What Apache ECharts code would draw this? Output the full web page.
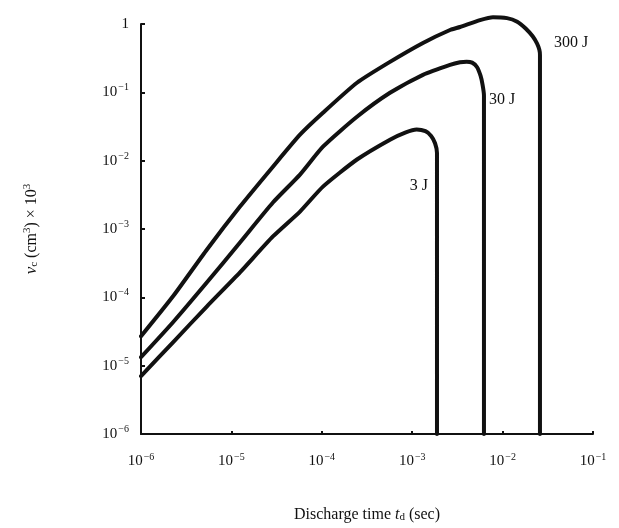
<!DOCTYPE html>
<html>
<head>
<meta charset="utf-8">
<title>Discharge time vs volume</title>
<script src="https://cdn.jsdelivr.net/npm/echarts@6/dist/echarts.min.js"></script>
<style>
  html, body { margin: 0; padding: 0; background: #fff; }
  #chart { width: 619px; height: 528px; }
</style>
</head>
<body>
<div id="chart"></div>
<script>
// Discharge time t_d (s) and volume v_c (cm^3 x 10^3) for three discharge energies.
// The last point of each curve is the cut-off, where the curve drops to the axis floor.
const energyLabels = ['3 J', '30 J', '300 J'];

const time3J = [1e-6, 2.26e-6, 5.37e-6, 1.245e-5, 2.88e-5, 5.74e-5, 1.03e-4, 2.45e-4, 5.68e-4, 8.5e-4, 1.12e-3, 1.40e-3, 1.62e-3, 1.79e-3, 1.88e-3, 1.88e-3];
const vol3J  = [7.03e-6, 2.20e-5, 7.40e-5, 2.32e-4, 7.78e-4, 1.80e-3, 4.17e-3, 1.04e-2, 2.03e-2, 2.6e-2, 2.86e-2, 2.7e-2, 2.3e-2, 1.8e-2, 1.3e-2, 1e-6];

const time30J = [1e-6, 2.26e-6, 5.37e-6, 1.245e-5, 2.88e-5, 5.74e-5, 1.03e-4, 2.45e-4, 5.68e-4, 1.315e-3, 2.62e-3, 3.38e-3, 4.0e-3, 4.6e-3, 5.2e-3, 5.7e-3, 6.0e-3, 6.22e-3, 6.22e-3];
const vol30J  = [1.33e-5, 4.32e-5, 1.66e-4, 6.35e-4, 2.44e-3, 6.25e-3, 1.60e-2, 4.39e-2, 9.84e-2, 0.180, 0.252, 0.275, 0.281, 0.272, 0.235, 0.175, 0.13, 0.09, 1e-6];

const time300J = [1e-6, 2.26e-6, 5.37e-6, 1.245e-5, 2.88e-5, 5.74e-5, 1.03e-4, 2.45e-4, 5.68e-4, 1.315e-3, 2.62e-3, 3.38e-3, 5.62e-3, 7.83e-3, 1.12e-2, 1.45e-2, 1.80e-2, 2.15e-2, 2.40e-2, 2.55e-2, 2.59e-2, 2.59e-2];
const vol300J  = [2.69e-5, 1.035e-4, 5.02e-4, 2.13e-3, 8.17e-3, 2.4e-2, 5.02e-2, 0.138, 0.279, 0.528, 0.817, 0.904, 1.14, 1.26, 1.22, 1.08, 0.86, 0.66, 0.52, 0.42, 0.35, 1e-6];

// Where each energy label sits on its curve's cut-off line
const labelVol = [4.3e-3, 7.8e-2, 0.53];

const xTicks = [1e-6, 1e-5, 1e-4, 1e-3, 1e-2, 1e-1];
const yTicks = [1e-6, 1e-5, 1e-4, 1e-3, 1e-2, 1e-1, 1];

const serif = '"Liberation Serif", "DejaVu Serif", serif';
const ink = '#111';

function pair(ts, vs) { return ts.map((t, i) => [t, vs[i]]); }

function powLabel(v) {
  const e = Math.round(Math.log10(v));
  if (e === 0) return '{b|1}';
  return '{b|10}{s|' + (e < 0 ? '\u2212' : '') + Math.abs(e) + '}';
}

const tickRich = {
  b: { fontFamily: serif, fontSize: 15, color: ink },
  s: { fontFamily: serif, fontSize: 10, color: ink, padding: [0, 0, 9, 1] }
};

const curves = [pair(time3J, vol3J), pair(time30J, vol30J), pair(time300J, vol300J)];
const labelSide = ['left', 'right', 'right'];
const labelGap = [9, 5, 14];

const series = curves.map((d, i) => ({
  name: energyLabels[i],
  type: 'line',
  data: d,
  showSymbol: false,
  smooth: 0.2,
  clip: false,
  lineStyle: { color: ink, width: 4, cap: 'round', join: 'round' },
  markPoint: {
    symbol: 'circle',
    symbolSize: 0,
    data: [{
      coord: [d[d.length - 1][0], labelVol[i]],
      label: {
        show: true,
        formatter: energyLabels[i],
        position: labelSide[i],
        distance: labelGap[i],
        fontFamily: serif,
        fontSize: 16,
        color: ink
      }
    }]
  }
}));

const chart = echarts.init(document.getElementById('chart'), null, { renderer: 'canvas' });
chart.setOption({
  backgroundColor: '#fff',
  animation: false,
  grid: { left: 141, right: 26, top: 24, bottom: 93 },
  xAxis: {
    type: 'log',
    logBase: 10,
    min: xTicks[0],
    max: xTicks[xTicks.length - 1],
    axisLine: { onZero: false, lineStyle: { color: ink, width: 2 } },
    axisTick: { inside: true, length: 3, lineStyle: { color: ink, width: 2 } },
    splitLine: { show: false },
    axisLabel: { margin: 18, formatter: powLabel, rich: tickRich },
    name: '{n|Discharge time }{i|t}{sub|d}{n| (sec)}',
    nameLocation: 'middle',
    nameGap: 72,
    nameTextStyle: {
      rich: {
        n: { fontFamily: serif, fontSize: 16, color: ink },
        i: { fontFamily: serif, fontSize: 16, fontStyle: 'italic', color: ink },
        sub: { fontFamily: serif, fontSize: 11, color: ink, padding: [6, 0, 0, 0] }
      }
    }
  },
  yAxis: {
    type: 'log',
    logBase: 10,
    min: yTicks[0],
    max: yTicks[yTicks.length - 1],
    axisLine: { lineStyle: { color: ink, width: 2 } },
    axisTick: { inside: true, length: 4, lineStyle: { color: ink, width: 2 } },
    splitLine: { show: false },
    axisLabel: { margin: 12, formatter: powLabel, rich: tickRich },
    name: '{i|\u03bd}{sub|c}{n| (cm}{sup|3}{n|) \u00d7 10}{sup|3}',
    nameLocation: 'middle',
    nameRotate: 90,
    nameGap: 100,
    nameTextStyle: {
      rich: {
        n: { fontFamily: serif, fontSize: 16, color: ink },
        i: { fontFamily: serif, fontSize: 17, fontStyle: 'italic', color: ink },
        sub: { fontFamily: serif, fontSize: 11, color: ink, padding: [6, 0, 0, 0] },
        sup: { fontFamily: serif, fontSize: 11, color: ink, padding: [0, 0, 8, 0] }
      }
    }
  },
  series: series
});
</script>
</body>
</html>
